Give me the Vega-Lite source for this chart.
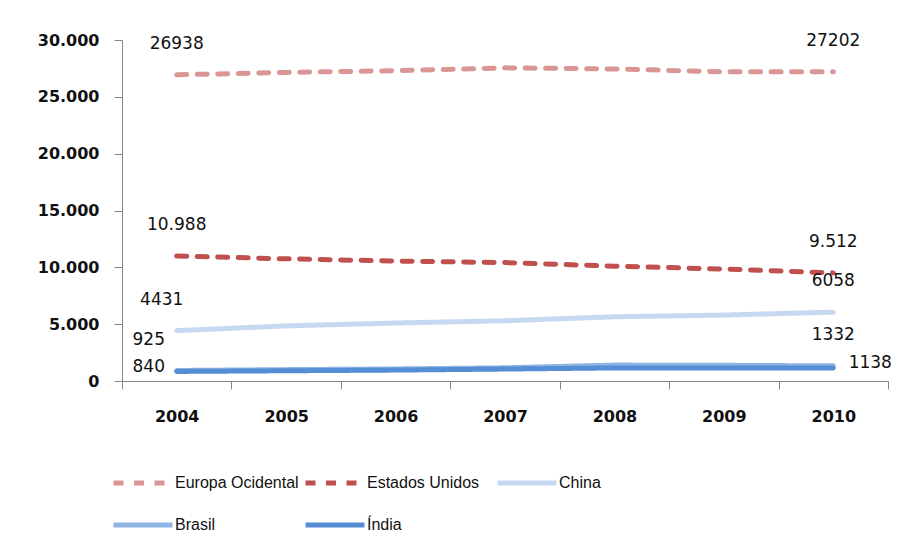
{
  "$schema": "https://vega.github.io/schema/vega-lite/v6.json",
  "width": 766,
  "height": 341,
  "autosize": "none",
  "padding": {"left": 122, "top": 40, "right": 20, "bottom": 169},
  "background": "white",
  "data": {
    "values": [
      {"serie": "Europa Ocidental", "ano": "2004", "valor": 26938, "label": "26938"},
      {"serie": "Europa Ocidental", "ano": "2005", "valor": 27150},
      {"serie": "Europa Ocidental", "ano": "2006", "valor": 27300},
      {"serie": "Europa Ocidental", "ano": "2007", "valor": 27550},
      {"serie": "Europa Ocidental", "ano": "2008", "valor": 27450},
      {"serie": "Europa Ocidental", "ano": "2009", "valor": 27200},
      {"serie": "Europa Ocidental", "ano": "2010", "valor": 27202, "label": "27202"},
      {"serie": "Estados Unidos", "ano": "2004", "valor": 10988, "label": "10.988"},
      {"serie": "Estados Unidos", "ano": "2005", "valor": 10750},
      {"serie": "Estados Unidos", "ano": "2006", "valor": 10550},
      {"serie": "Estados Unidos", "ano": "2007", "valor": 10420},
      {"serie": "Estados Unidos", "ano": "2008", "valor": 10100},
      {"serie": "Estados Unidos", "ano": "2009", "valor": 9850},
      {"serie": "Estados Unidos", "ano": "2010", "valor": 9512, "label": "9.512"},
      {"serie": "China", "ano": "2004", "valor": 4431, "label": "4431"},
      {"serie": "China", "ano": "2005", "valor": 4850},
      {"serie": "China", "ano": "2006", "valor": 5100},
      {"serie": "China", "ano": "2007", "valor": 5300},
      {"serie": "China", "ano": "2008", "valor": 5650},
      {"serie": "China", "ano": "2009", "valor": 5800},
      {"serie": "China", "ano": "2010", "valor": 6058, "label": "6058"},
      {"serie": "Brasil", "ano": "2004", "valor": 925, "label": "925"},
      {"serie": "Brasil", "ano": "2005", "valor": 1000},
      {"serie": "Brasil", "ano": "2006", "valor": 1060},
      {"serie": "Brasil", "ano": "2007", "valor": 1160},
      {"serie": "Brasil", "ano": "2008", "valor": 1400},
      {"serie": "Brasil", "ano": "2009", "valor": 1380},
      {"serie": "Brasil", "ano": "2010", "valor": 1332, "label": "1332"},
      {"serie": "Índia", "ano": "2004", "valor": 840, "label": "840"},
      {"serie": "Índia", "ano": "2005", "valor": 900},
      {"serie": "Índia", "ano": "2006", "valor": 960},
      {"serie": "Índia", "ano": "2007", "valor": 1050},
      {"serie": "Índia", "ano": "2008", "valor": 1150},
      {"serie": "Índia", "ano": "2009", "valor": 1150},
      {"serie": "Índia", "ano": "2010", "valor": 1138, "label": "1138"}
    ]
  },
  "encoding": {
    "x": {
      "field": "ano", "type": "ordinal", "title": null,
      "scale": {"type": "band", "paddingInner": 0, "paddingOuter": 0},
      "axis": {
        "tickBand": "extent", "labelAngle": 0, "domainColor": "#868686", "tickColor": "#868686",
        "tickSize": 8, "labelPadding": 19, "labelFont": "DejaVu Sans", "labelFontWeight": "bold",
        "labelFontSize": 16, "labelColor": "#111111", "grid": false
      }
    },
    "y": {
      "field": "valor", "type": "quantitative", "title": null,
      "scale": {"domain": [0, 30000]},
      "axis": {
        "values": [0, 5000, 10000, 15000, 20000, 25000, 30000], "format": ",.0f",
        "domainColor": "#868686", "tickColor": "#868686", "tickSize": 8, "labelPadding": 15,
        "labelFont": "DejaVu Sans", "labelFontWeight": "bold", "labelFontSize": 16,
        "labelColor": "#111111", "grid": false
      }
    }
  },
  "layer": [
    {
      "mark": {"type": "line", "strokeWidth": 5, "strokeCap": "round"},
      "encoding": {
        "color": {
          "field": "serie", "type": "nominal", "title": null,
          "scale": {
            "domain": ["Europa Ocidental", "Estados Unidos", "China", "Brasil", "Índia"],
            "range": ["#D99694", "#C0504D", "#C6D9F1", "#8EB4E3", "#558ED5"]
          }
        },
        "strokeDash": {
          "field": "serie", "type": "nominal", "title": null,
          "scale": {
            "domain": ["Europa Ocidental", "Estados Unidos", "China", "Brasil", "Índia"],
            "range": [[10, 10.5], [10, 10.5], [1, 0], [1, 0], [1, 0]]
          }
        }
      }
    },
    {
      "transform": [{"filter": "datum.label && (datum.serie == 'Europa Ocidental' || datum.serie == 'Estados Unidos' || (datum.ano == '2010' && (datum.serie == 'China' || datum.serie == 'Brasil')))"}],
      "mark": {"type": "text", "dy": -31, "font": "DejaVu Sans", "fontSize": 17, "color": "#111111"},
      "encoding": {"text": {"field": "label"}}
    },
    {
      "transform": [{"filter": "datum.label && datum.serie == 'China' && datum.ano == '2004'"}],
      "mark": {"type": "text", "dx": -15, "dy": -31, "font": "DejaVu Sans", "fontSize": 17, "color": "#111111"},
      "encoding": {"text": {"field": "label"}}
    },
    {
      "transform": [{"filter": "datum.label && datum.serie == 'Brasil' && datum.ano == '2004'"}],
      "mark": {"type": "text", "dx": -28, "dy": -30, "font": "DejaVu Sans", "fontSize": 17, "color": "#111111"},
      "encoding": {"text": {"field": "label"}}
    },
    {
      "transform": [{"filter": "datum.label && datum.serie == 'Índia' && datum.ano == '2004'"}],
      "mark": {"type": "text", "dx": -28, "dy": -4, "font": "DejaVu Sans", "fontSize": 17, "color": "#111111"},
      "encoding": {"text": {"field": "label"}}
    },
    {
      "transform": [{"filter": "datum.label && datum.serie == 'Índia' && datum.ano == '2010'"}],
      "mark": {"type": "text", "dx": 37, "dy": -5, "font": "DejaVu Sans", "fontSize": 17, "color": "#111111"},
      "encoding": {"text": {"field": "label"}}
    }
  ],
  "config": {
    "locale": {"number": {"decimal": ",", "thousands": ".", "grouping": [3], "currency": ["", ""]}},
    "view": {"stroke": null},
    "legend": {
      "orient": "none", "legendX": -11, "legendY": 411, "direction": "horizontal", "columns": 3,
      "gridAlign": "all", "columnPadding": -4, "rowPadding": -17, "padding": 0,
      "symbolType": "stroke", "symbolSize": 3481, "symbolStrokeWidth": 5,
      "labelFont": "Liberation Sans", "labelFontSize": 16, "labelColor": "#111111",
      "labelOffset": 0, "labelLimit": 300
    }
  }
}
